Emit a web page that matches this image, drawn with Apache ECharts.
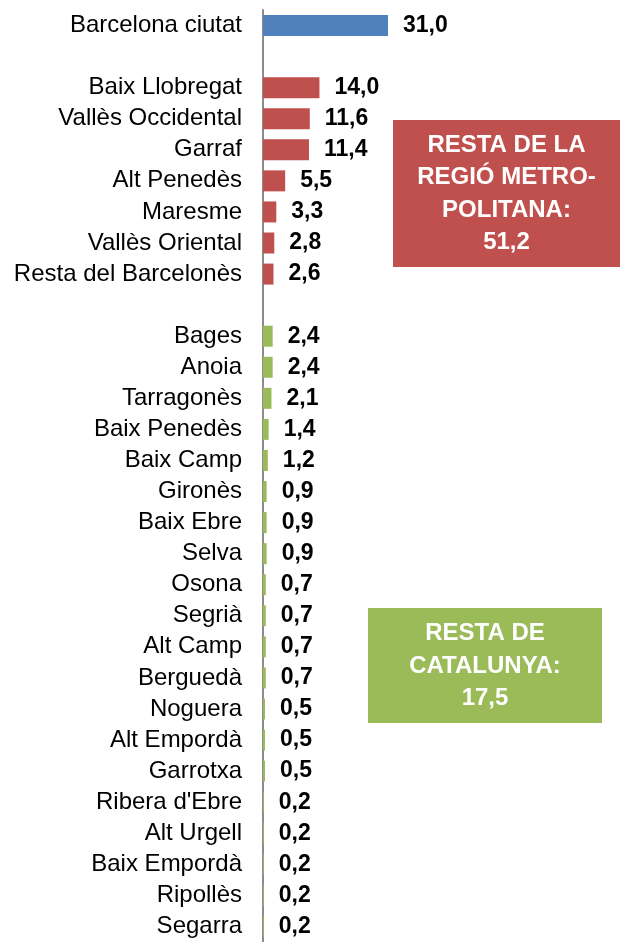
<!DOCTYPE html>
<html>
<head>
<meta charset="utf-8">
<script src="https://cdn.jsdelivr.net/npm/echarts@6/dist/echarts.min.js"></script>
<style>
html,body{margin:0;padding:0;background:#fff;}
#c{width:621px;height:942px;}
</style>
</head>
<body>
<div id="c"></div>
<script>
var categories = ['Barcelona ciutat','',
  'Baix Llobregat','Vallès Occidental','Garraf','Alt Penedès','Maresme','Vallès Oriental','Resta del Barcelonès','',
  'Bages','Anoia','Tarragonès','Baix Penedès','Baix Camp','Gironès','Baix Ebre','Selva','Osona','Segrià','Alt Camp','Berguedà','Noguera','Alt Empordà','Garrotxa','Ribera d\'Ebre','Alt Urgell','Baix Empordà','Ripollès','Segarra'];
var barcelona = [31.0,null, null,null,null,null,null,null,null,null, null,null,null,null,null,null,null,null,null,null,null,null,null,null,null,null,null,null,null,null];
var metro = [null,null, 14.0,11.6,11.4,5.5,3.3,2.8,2.6,null, null,null,null,null,null,null,null,null,null,null,null,null,null,null,null,null,null,null,null,null];
var restCat = [null,null, null,null,null,null,null,null,null,null, 2.4,2.4,2.1,1.4,1.2,0.9,0.9,0.9,0.7,0.7,0.7,0.7,0.5,0.5,0.5,0.2,0.2,0.2,0.2,0.2];
var metroBoxText = ['RESTA DE LA','REGIÓ METRO-','POLITANA:','51,2'];
var catBoxText = ['RESTA DE','CATALUNYA:','17,5'];

var FONT = '"Liberation Sans", Arial, sans-serif';
var labelCfg = {
  show: true, position: 'right', distance: 15,
  fontFamily: FONT, fontSize: 23, fontWeight: 'bold', color: '#000',
  formatter: function(p){ return p.value == null ? '' : p.value.toFixed(1).replace('.', ','); }
};
function mkSeries(name, data, color){
  return {name:name, type:'bar', stack:'s', data:data, barWidth:21,
    itemStyle:{color:color}, label:labelCfg, silent:true, animation:false};
}
var chart = echarts.init(document.getElementById('c'), null, {renderer:'canvas'});
chart.setOption({
  animation:false,
  grid:{left:263, top:10, width:322.6, height:934, containLabel:false},
  xAxis:{type:'value', min:0, max:80, show:false},
  yAxis:{type:'category', data:categories, inverse:true,
    axisLine:{show:true, lineStyle:{color:'#8c8c8c', width:2}},
    axisTick:{show:false},
    axisLabel:{fontFamily:FONT, fontSize:24, color:'#000', margin:21, interval:0}},
  series:[mkSeries('Barcelona', barcelona, '#4f81bd'),
          mkSeries('Metro', metro, '#c0504d'),
          mkSeries('Resta', restCat, '#9bbb59')],
  graphic:[
    {type:'group', left:393, top:120, children:[
      {type:'rect', shape:{x:0,y:0,width:227,height:147}, style:{fill:'#c0504d'}},
      {type:'text', x:113.5, y:74, style:{text:metroBoxText.join('\n'), fill:'#fff',
        font:'bold 24px '+FONT, lineHeight:32.5, align:'center', verticalAlign:'middle'}}
    ]},
    {type:'group', left:368, top:608, children:[
      {type:'rect', shape:{x:0,y:0,width:234,height:115}, style:{fill:'#9bbb59'}},
      {type:'text', x:117, y:58, style:{text:catBoxText.join('\n'), fill:'#fff',
        font:'bold 24px '+FONT, lineHeight:32.5, align:'center', verticalAlign:'middle'}}
    ]}
  ]
});
</script>
</body>
</html>
